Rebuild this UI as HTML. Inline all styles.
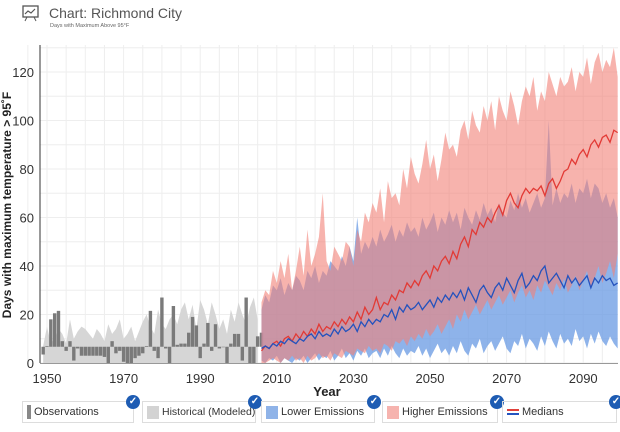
<!DOCTYPE html>
<html><head><meta charset="utf-8"><style>
body{margin:0;width:620px;height:432px;background:#fff;font-family:"Liberation Sans",sans-serif;overflow:hidden;position:relative}
.lg{position:absolute;top:401px;height:22px;border:1px solid #ddd;box-sizing:border-box;font-size:11px;color:#333;line-height:20px;padding-left:4px;white-space:nowrap}
.sw{display:inline-block;width:12px;height:13px;vertical-align:middle;margin-right:3px}
.ck{position:absolute;right:-7px;top:-7px;width:14px;height:14px;border-radius:50%;background:#1e5cb3;color:#fff;font-size:10px;line-height:14px;text-align:center;font-weight:bold}
</style></head><body>
<svg style="position:absolute;left:22px;top:5px" width="17" height="17" viewBox="0 0 17 17"><rect x="1" y="1" width="15" height="11" fill="none" stroke="#555" stroke-width="1.3"/><polyline points="3,9 6,6 9,8 13,4" fill="none" stroke="#555" stroke-width="1.2"/><line x1="5" y1="12" x2="3" y2="16" stroke="#555"/><line x1="12" y1="12" x2="14" y2="16" stroke="#555"/></svg>
<div style="position:absolute;left:49px;top:5px;font-size:14px;color:#555">Chart: Richmond City</div>
<div style="position:absolute;left:50px;top:23px;font-size:5.5px;color:#666">Days with Maximum Above 95°F</div>
<svg id="ch" width="620" height="400" style="position:absolute;left:0;top:0"></svg>
<div class="lg" style="left:22px;width:112px"><span style="display:inline-block;width:4px;height:14px;background:#888;vertical-align:middle;margin-right:3px"></span>Observations<div class="ck">✓</div></div>
<div class="lg" style="left:142px;width:114px;font-size:10.5px"><span class="sw" style="background:#d3d3d3"></span>Historical (Modeled)<div class="ck">✓</div></div>
<div class="lg" style="left:261px;width:114px"><span class="sw" style="background:#8fb3e8"></span>Lower Emissions<div class="ck">✓</div></div>
<div class="lg" style="left:382px;width:116px"><span class="sw" style="background:#f6b3ae"></span>Higher Emissions<div class="ck">✓</div></div>
<div class="lg" style="left:502px;width:115px"><span style="display:inline-block;width:12px;height:6px;border-top:2px solid #e0403a;border-bottom:2px solid #2455c0;vertical-align:middle;margin-right:3px;box-sizing:border-box"></span>Medians<div class="ck">✓</div></div>
<script>
const obsStart=1949;
const obs=[3.5,7,18,20.5,21.5,9,5,9,1,6,3,3,3,3,3,3,2.5,0,9,4,5,0.5,0,0,2,3,4,7,21.5,5,2,27,6,0,23.5,7.5,8,8,12.5,19,15.5,2,8,16.5,5,16,6,6.5,0,8,12,12,1,27,0,0,11,12.5];
const histStart=1949;
const hist=[7,15,8,10,14,12,8,18,10,13,15,14,12,10,14,12,9,16,12,14,18,10,12,15,9,13,17,20,15,12,22,16,14,18,20,16,22,25,18,24,14,26,22,16,25,20,14,18,12,22,17,25,20,16,23,27,18];
const projStart=2006;
const redHi=[25,30,28,38,33,42,35,45,30,38,48,36,55,40,45,52,70,42,38,48,45,42,50,48,40,55,50,62,58,66,62,72,58,75,68,70,65,80,72,85,78,74,82,92,80,86,75,84,95,88,90,85,96,100,92,104,98,95,106,100,108,96,110,104,100,112,106,98,108,114,110,118,104,112,108,120,115,110,118,114,116,122,112,120,118,126,115,124,128,120,125,122,130,118];
const redLo=[0,0,1,2,1,0,2,1,3,1,2,0,3,1,2,4,2,3,1,4,3,2,5,4,3,6,5,4,7,5,6,4,8,7,5,9,8,10,7,11,9,12,10,14,11,13,16,12,15,18,14,20,17,22,18,21,24,20,23,26,22,25,28,24,27,30,25,29,32,27,30,26,32,29,34,31,28,33,30,35,29,32,36,30,34,38,31,35,40,33,37,42,35,45];
const blueHi=[22,28,25,32,30,35,28,33,30,36,34,30,38,35,40,33,38,36,42,40,38,44,40,48,42,60,45,50,47,52,48,55,50,53,57,50,55,52,58,54,56,52,60,55,58,62,54,60,57,63,58,62,55,64,60,57,63,59,66,61,64,58,66,62,60,67,63,70,64,68,62,66,70,64,68,100,65,72,66,70,68,74,66,72,70,76,68,74,72,66,70,64,68,60];
const blueLo=[1,0,2,1,3,0,2,1,0,2,1,3,0,2,4,1,3,2,5,1,3,6,2,4,1,5,3,6,2,4,5,2,6,3,7,4,2,6,3,5,4,7,3,6,2,5,8,4,6,3,7,4,9,5,3,8,6,10,4,7,9,5,8,11,6,4,9,7,12,6,10,8,5,11,7,13,9,6,12,8,10,7,14,9,11,6,12,8,13,9,7,11,8,6];
const redMed=[5,7,6,8,9,7,10,11,9,12,10,13,11,14,12,16,13,15,14,17,15,18,16,19,17,21,18,23,20,22,27,22,25,24,28,26,30,29,33,31,34,32,36,38,35,40,38,42,44,41,46,43,49,52,48,55,53,58,56,60,58,62,65,61,67,70,66,64,69,72,70,72,71,73,69,74,76,72,75,79,80,84,82,86,88,85,90,92,89,93,94,91,96,95];
const blueMed=[6,7,6,8,7,9,8,10,9,8,10,9,11,12,10,13,11,12,11,14,12,15,13,14,16,13,17,15,18,16,18,17,20,19,22,18,23,21,24,22,23,25,22,24,26,23,27,25,28,26,29,27,30,26,31,28,25,30,32,29,27,31,33,30,35,32,29,34,37,31,33,36,34,38,40,33,35,37,34,31,36,33,35,32,34,36,31,35,33,36,34,35,32,33];
const yTicks=[0,20,40,60,80,100,120];
const xTicks=[1950,1970,1990,2010,2030,2050,2070,2090];

const NS='http://www.w3.org/2000/svg',svg=document.getElementById('ch');
const X=y=>47+(y-1950)*3.83, Y=v=>363-v*2.425;
function mk(t,a){const e=document.createElementNS(NS,t);for(const k in a)e.setAttribute(k,a[k]);svg.appendChild(e);return e;}
for(let v=0;v<=130;v+=10){const g=mk('line',{x1:40,x2:618,y1:Y(v),y2:Y(v),stroke:'#eee'});

}
for(let yr=1945;yr<=2100;yr+=5){const g=mk('line',{x1:X(yr),x2:X(yr),y1:45,y2:363,stroke:'#eee'});

}
function band(lo,hi,start,fill,name){let p=[];hi.forEach((v,i)=>p.push(X(start+i)+','+Y(v)));for(let i=lo.length-1;i>=0;i--)p.push(X(start+i)+','+Y(lo[i]));
const e=mk('polygon',{points:p.join(' '),fill:fill});

}
band(hist.map(()=>0),hist,histStart,'#d6d6d6','historical-band');
obs.forEach((v,i)=>{const t=6.7,x=X(obsStart+i)-1.7;const r=mk('rect',{x:x,width:3.4,y:Math.min(Y(v),Y(t)),height:Math.max(Math.abs(Y(v)-Y(t)),0.5),fill:'#7a7a7a'});

});
band(blueLo,blueHi,projStart,'rgba(110,158,228,0.78)','lower-emissions-band');
band(redLo,redHi,projStart,'rgba(242,128,118,0.6)','higher-emissions-band');
function line(d,c,name){const e=mk('polyline',{points:d.map((v,i)=>X(projStart+i)+','+Y(v)).join(' '),fill:'none',stroke:c,'stroke-width':1.3});

}
line(redMed,'#e23a35','higher-median-line');
line(blueMed,'#2452bd','lower-median-line');
const ax=mk('line',{x1:40,x2:40,y1:45,y2:363,stroke:'#333'});


const bx=mk('line',{x1:40,x2:618,y1:363.5,y2:363.5,stroke:'#999'});


yTicks.forEach(v=>{const t=mk('text',{x:34,y:Y(v)+5,'text-anchor':'end','font-size':13,fill:'#333'});t.textContent=v;

});
xTicks.forEach(v=>{const t=mk('text',{x:X(v),y:383,'text-anchor':'middle','font-size':13,fill:'#333'});t.textContent=v;

});
const xt=mk('text',{x:327,y:396,'text-anchor':'middle','font-size':13,'font-weight':'bold',fill:'#222'});xt.textContent='Year';


const yt=mk('text',{x:0,y:0,'text-anchor':'middle','font-size':12,'font-weight':'bold',fill:'#222',transform:'translate(11,205) rotate(-90)'});yt.textContent='Days with maximum temperature > 95˚F';


</script>
</body></html>
